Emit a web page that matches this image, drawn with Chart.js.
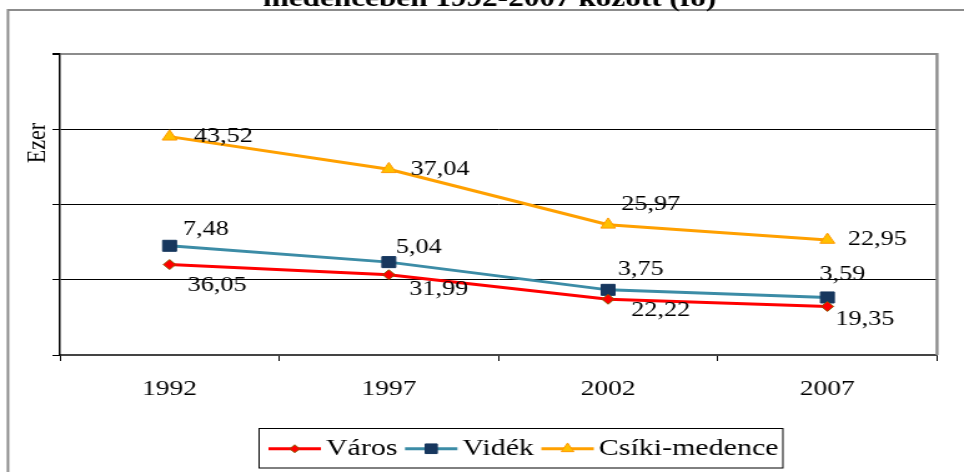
<!DOCTYPE html>
<html>
<head>
<meta charset="utf-8">
<title>Népesség alakulása</title>
<script src="https://cdn.jsdelivr.net/npm/chart.js@4/dist/chart.umd.min.js"></script>
<style>
  html, body { margin: 0; padding: 0; background: #fff; overflow: hidden; }
  #wrap { width: 964px; height: 472px; overflow: hidden; }
  /* the whole drawing is a little wider than it is tall, so stretch the canvas */
  #chart { display: block; transform: scaleX(1.2487); transform-origin: 0 0; }
</style>
</head>
<body>
<div id="wrap"><canvas id="chart" width="772" height="472"></canvas></div>
<script>
// Népesség (ezer fő)
const years = ['1992', '1997', '2002', '2007'];
const varos = [36.05, 31.99, 22.22, 19.35];
const videk = [7.48, 5.04, 3.75, 3.59];
const csiki = [43.52, 37.04, 25.97, 22.95];
const yMax = 120;
const yStep = 30;

const serif = '"Liberation Serif", "Times New Roman", serif';

// where each value label sits relative to its point (dx, dy)
const labelOffsets = [
    [[38, 21], [40, 15], [42, 11], [30, 13]],
    [[29, -16], [24, -15], [26, -20], [12, -23]],
    [[43, 0], [41, 0], [34, -20], [40, 0]]
];

// Outer frame, clipped title and axis caption
const frame = {
    id: 'frame',
    beforeDraw(chart) {
        const ctx = chart.ctx;
        ctx.save();
        ctx.strokeStyle = '#8c8c8c';
        ctx.lineWidth = 2;
        ctx.beginPath();
        ctx.moveTo(6.4, 472);
        ctx.lineTo(6.4, 10);
        ctx.lineTo(772, 10);
        ctx.stroke();

        ctx.fillStyle = '#000';
        ctx.font = 'bold 25px ' + serif;
        ctx.textAlign = 'center';
        ctx.textBaseline = 'alphabetic';
        ctx.fillText('medencében 1992-2007 között (fő)', 392, 5.5);

        ctx.font = '22px ' + serif;
        ctx.textBaseline = 'middle';
        ctx.translate(30.4, 143);
        ctx.rotate(-Math.PI / 2);
        ctx.fillText('Ezer', 0, 0);
        ctx.restore();
    },
    beforeDatasetsDraw(chart) {
        const {ctx, chartArea} = chart;
        ctx.save();
        ctx.strokeStyle = '#8c8c8c';
        ctx.lineWidth = 2.4;
        ctx.beginPath();
        ctx.moveTo(chartArea.right, chartArea.top - 1);
        ctx.lineTo(chartArea.right, chartArea.bottom);
        ctx.stroke();
        ctx.restore();
    }
};

// Value labels next to each point
const valueLabels = {
    id: 'valueLabels',
    afterDatasetsDraw(chart) {
        const ctx = chart.ctx;
        ctx.save();
        ctx.font = '21px ' + serif;
        ctx.fillStyle = '#000';
        ctx.textAlign = 'center';
        ctx.textBaseline = 'middle';
        chart.data.datasets.forEach((ds, i) => {
            chart.getDatasetMeta(i).data.forEach((pt, j) => {
                const [dx, dy] = labelOffsets[i][j];
                ctx.fillText(ds.data[j].toFixed(2).replace('.', ','), pt.x + dx, pt.y + dy);
            });
        });
        ctx.restore();
    }
};

// Boxed legend with line-marker-line symbols
const legendBox = {
    id: 'legendBox',
    afterDraw(chart) {
        const ctx = chart.ctx;
        const sets = chart.data.datasets;
        ctx.save();
        ctx.font = '24px ' + serif;
        const lineLen = 42, gapText = 4, gapItem = 6;
        const left = 207, top = 428.5, h = 39.5;
        const widths = sets.map(d => lineLen + gapText + ctx.measureText(d.label).width);
        const total = widths.reduce((a, b) => a + b, 0) + gapItem * (sets.length - 1) + 8 + 3;

        ctx.strokeStyle = '#000';
        ctx.lineWidth = 1;
        ctx.strokeRect(left + 0.5, top, total, h);

        let x = left + 8;
        const y = top + h / 2 + 0.5;
        sets.forEach((d, i) => {
            ctx.strokeStyle = d.borderColor;
            ctx.lineWidth = 3;
            ctx.beginPath();
            ctx.moveTo(x, y);
            ctx.lineTo(x + lineLen, y);
            ctx.stroke();

            ctx.fillStyle = d.pointBackgroundColor;
            ctx.strokeStyle = d.pointBorderColor;
            ctx.lineWidth = 1;
            Chart.helpers.drawPoint(ctx, {
                pointStyle: d.pointStyle,
                radius: d.pointRadius - 1,
                rotation: 0,
                borderWidth: 1
            }, x + lineLen / 2, y);

            ctx.fillStyle = '#000';
            ctx.textAlign = 'left';
            ctx.textBaseline = 'middle';
            ctx.fillText(d.label, x + lineLen + gapText, y);
            x += widths[i] + gapItem;
        });
        ctx.restore();
    }
};

new Chart(document.getElementById('chart'), {
    type: 'line',
    data: {
        labels: years,
        datasets: [{
            label: 'Város',
            data: varos,
            borderColor: '#ff0000',
            borderWidth: 3,
            pointStyle: 'rectRot',
            pointRadius: 5,
            pointBackgroundColor: '#ff0000',
            pointBorderColor: '#8b5a00',
            pointBorderWidth: 1,
            fill: false
        }, {
            label: 'Vidék',
            data: videk,
            borderColor: '#3c8ca6',
            borderWidth: 3,
            pointStyle: 'rect',
            pointRadius: 7.8,
            pointBackgroundColor: '#17375e',
            pointBorderColor: '#17375e',
            pointBorderWidth: 1,
            fill: false
        }, {
            label: 'Csíki-medence',
            data: csiki,
            borderColor: '#ffa000',
            borderWidth: 3,
            pointStyle: 'triangle',
            pointRadius: 6.8,
            pointBackgroundColor: '#ffc000',
            pointBorderColor: '#ff9900',
            pointBorderWidth: 1,
            fill: false
        }]
    },
    options: {
        responsive: false,
        animation: false,
        layout: {
            padding: {left: 41, right: 21.6, top: 54, bottom: 57}
        },
        plugins: {
            legend: {display: false},
            title: {display: false},
            tooltip: {enabled: false}
        },
        elements: {
            line: {tension: 0}
        },
        scales: {
            x: {
                offset: true,
                grid: {
                    offset: true,
                    drawOnChartArea: false,
                    drawTicks: true,
                    tickLength: 6,
                    color: '#000',
                    tickColor: '#000'
                },
                border: {color: '#444', width: 2},
                ticks: {
                    font: {family: serif, size: 22},
                    color: '#000',
                    padding: 15,
                    maxRotation: 0
                },
                afterFit: s => { s.height = 60; }
            },
            y: {
                stacked: true,
                min: 0,
                max: yMax,
                ticks: {stepSize: yStep, display: false},
                grid: {
                    color: c => (c.tick && c.tick.value === yMax ? '#8c8c8c' : '#000'),
                    lineWidth: c => (c.tick && c.tick.value === yMax ? 2 : 1),
                    tickColor: '#000',
                    drawTicks: true,
                    tickLength: 6
                },
                border: {color: '#000', width: 1.5},
                afterFit: s => { s.width = 7; }
            }
        }
    },
    plugins: [frame, valueLabels, legendBox]
});
</script>
</body>
</html>
